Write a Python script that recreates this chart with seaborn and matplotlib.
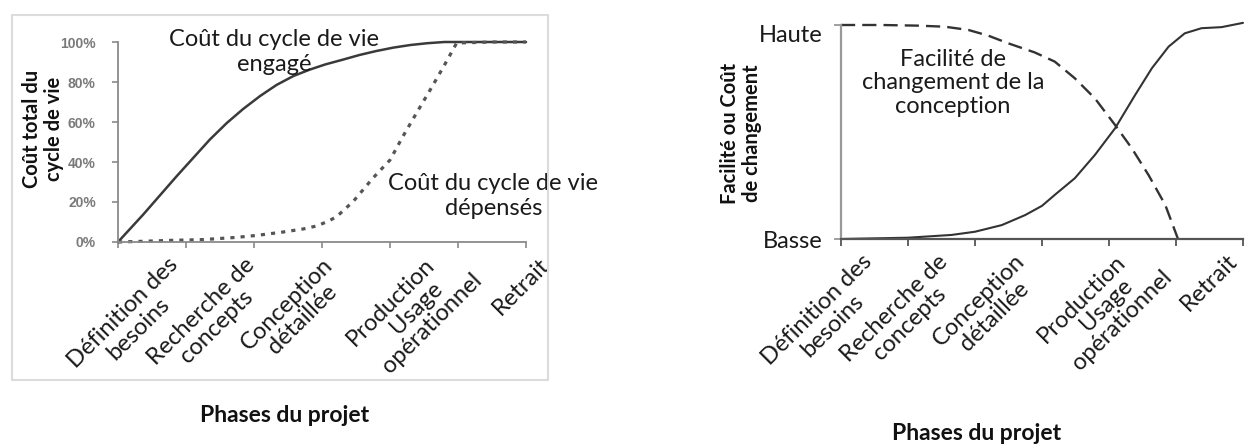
import matplotlib
matplotlib.use('Agg')
import matplotlib.pyplot as plt
from matplotlib.patches import Rectangle
import pandas as pd
import seaborn as sns

sns.set_theme(style='white')
plt.rcParams['font.family'] = ['Lato', 'DejaVu Sans']

# phases du projet (axe x : 0 = début, 6 = fin)
phases = ["Définition des\nbesoins", "Recherche de\nconcepts", "Conception\ndétaillée",
          "Production", "Usage\nopérationnel", "Retrait"]

# graphique de gauche : coût du cycle de vie (%)
engage_x = [0, 0.37, 0.86, 1.35, 1.6, 1.84, 2.09, 2.33, 2.58, 2.82, 3.05, 3.31, 3.55, 3.8, 4.05, 4.3, 4.55, 4.8, 5.03, 5.5, 6.0]
engage_y = [0, 13.7, 32.8, 51.2, 59.5, 66.5, 73.0, 78.5, 83.0, 86.2, 88.8, 91.2, 93.5, 95.5, 97.2, 98.5, 99.4, 100, 100, 100, 100]
depense_x = [0, 0.32, 0.76, 1.25, 1.74, 2.04, 2.43, 2.72, 2.92, 3.1, 3.22, 3.46, 3.75, 4.0, 4.19, 4.39, 4.59, 4.79, 4.98, 5.5, 6.0]
depense_y = [0, 0.3, 0.8, 1.2, 2.3, 3.3, 5.0, 6.5, 8.0, 10.5, 12.8, 20.3, 32.0, 41.0, 52.8, 64.5, 76.0, 87.8, 99.5, 100, 100]

# graphique de droite : facilité de changement / coût du changement (0 = Basse, 1 = Haute)
facilite_x = [0, 0.6, 1.15, 1.55, 1.9, 2.2, 2.5, 2.89, 3.19, 3.49, 3.79, 4.09, 4.34, 4.59, 4.84, 5.03]
facilite_y = [1.0, 1.0, 0.997, 0.992, 0.977, 0.95, 0.914, 0.872, 0.829, 0.751, 0.657, 0.533, 0.424, 0.299, 0.159, 0.0]
cout_x = [0, 1.0, 1.65, 2.0, 2.4, 2.75, 3.0, 3.19, 3.49, 3.79, 4.09, 4.39, 4.64, 4.89, 5.13, 5.38, 5.68, 6.0]
cout_y = [0, 0.006, 0.019, 0.034, 0.065, 0.112, 0.155, 0.206, 0.284, 0.393, 0.517, 0.673, 0.798, 0.899, 0.961, 0.985, 0.99, 1.01]

# ancrage des étiquettes de phase (coin haut-droit, en unités de l'axe x)
label_pos = [0.72, 1.85, 3.0, 4.5, 4.96, 6.18]

left_df = pd.DataFrame({'x': engage_x, 'y': engage_y})
spent_df = pd.DataFrame({'x': depense_x, 'y': depense_y})
ease_df = pd.DataFrame({'x': facilite_x, 'y': facilite_y})
cost_df = pd.DataFrame({'x': cout_x, 'y': cout_y})

W, H = 1260, 445
fig = plt.figure(figsize=(W / 100, H / 100), dpi=100)
fig.patch.set_facecolor('white')

# cadre gris clair du graphique scanné
fig.add_artist(Rectangle((12 / W, 1 - 380 / H), 536 / W, 365 / H, transform=fig.transFigure,
                         fill=False, edgecolor='#dcdcdc', lw=1.5))

ax1 = fig.add_axes([118 / W, 1 - 242 / H, 408 / W, 200 / H])
ax2 = fig.add_axes([841 / W, 1 - 239 / H, 402 / W, 214 / H])

txt_kw = dict(fontsize=17, color='#1a1a1a')

# ---- gauche
sns.lineplot(data=left_df, x='x', y='y', ax=ax1, color='#3a3a3a', lw=1.8, clip_on=False)
sns.lineplot(data=spent_df, x='x', y='y', ax=ax1, color='#555555', lw=2.3, clip_on=False,
             linestyle=(0, (1.3, 1.9)), dash_capstyle='butt')
ax1.set_xlim(0, 6)
ax1.set_ylim(0, 100)
ax1.set_xticks(range(7))
ax1.set_xticklabels([])
ax1.set_yticks(range(0, 101, 20))
ax1.set_yticklabels([f'{v}%' for v in range(0, 101, 20)], fontfamily='Liberation Sans',
                    fontweight='bold', fontsize=10, color='#7a7a7a')
ax1.tick_params(axis='both', direction='out', length=4, width=1.2, color='#8a8a8a', bottom=True, left=True)
ax1.tick_params(axis='y', pad=12)
for s in ['top', 'right']:
    ax1.spines[s].set_visible(False)
for s in ['left', 'bottom']:
    ax1.spines[s].set_color('#8a8a8a')
    ax1.spines[s].set_linewidth(1.3)
ax1.set_xlabel('')
ax1.set_ylabel('')
ax1.text(2.3, 95, 'Coût du cycle de vie\nengagé', ha='center', va='center', linespacing=1.25, **txt_kw)
ax1.text(5.52, 23, 'Coût du cycle de vie\ndépensés', ha='center', va='center', linespacing=1.2, **txt_kw)
for p, lab in zip(label_pos, phases):
    ax1.text(p, -0.06, lab, transform=ax1.get_xaxis_transform(), rotation=45, ha='right', va='top',
             rotation_mode='anchor', multialignment='center', linespacing=1.05, **txt_kw)
fig.text(43 / W, 1 - 129 / H, 'Coût total du\ncycle de vie', rotation=90, ha='center', va='center',
         fontsize=14.5, fontweight='bold', color='#111111', linespacing=1.15)
fig.text(285 / W, 1 - 415 / H, 'Phases du projet', ha='center', va='center',
         fontsize=16.5, fontweight='bold', color='#111111')

# ---- droite
sns.lineplot(data=ease_df, x='x', y='y', ax=ax2, color='#333333', lw=1.7, clip_on=False,
             linestyle=(0, (6, 3)))
sns.lineplot(data=cost_df, x='x', y='y', ax=ax2, color='#333333', lw=1.5, clip_on=False)
ax2.set_xlim(0, 6)
ax2.set_ylim(0, 1)
ax2.set_xticks(range(7))
ax2.set_xticklabels([])
ax2.set_yticks([0, 1])
ax2.set_yticklabels(['Basse', 'Haute'], **txt_kw)
ax2.get_yticklabels()[1].set_va('top')
ax2.tick_params(axis='both', direction='out', length=5, width=1.3, bottom=True, left=True)
ax2.tick_params(axis='x', color='#555555')
ax2.tick_params(axis='y', color='#999999', pad=8)
for s in ['top', 'right']:
    ax2.spines[s].set_visible(False)
ax2.spines['left'].set_color('#999999')
ax2.spines['left'].set_linewidth(1.6)
ax2.spines['bottom'].set_color('#555555')
ax2.spines['bottom'].set_linewidth(1.6)
ax2.set_xlabel('')
ax2.set_ylabel('')
ax2.text(1.67, 0.73, 'Facilité de\nchangement de la\nconception', ha='center', va='center',
         linespacing=1.15, **txt_kw)
for p, lab in zip(label_pos, phases):
    ax2.text(p - 0.42, -0.055, lab, transform=ax2.get_xaxis_transform(), rotation=45, ha='right', va='top',
             rotation_mode='anchor', multialignment='center', linespacing=1.05, **txt_kw)
fig.text(741 / W, 1 - 133 / H, 'Facilité ou Coût\nde changement', rotation=90, ha='center', va='center',
         fontsize=14.5, fontweight='bold', color='#111111', linespacing=1.15)
fig.text(977 / W, 1 - 433 / H, 'Phases du projet', ha='center', va='center',
         fontsize=16.5, fontweight='bold', color='#111111')

fig.savefig('out.png', dpi=100)
